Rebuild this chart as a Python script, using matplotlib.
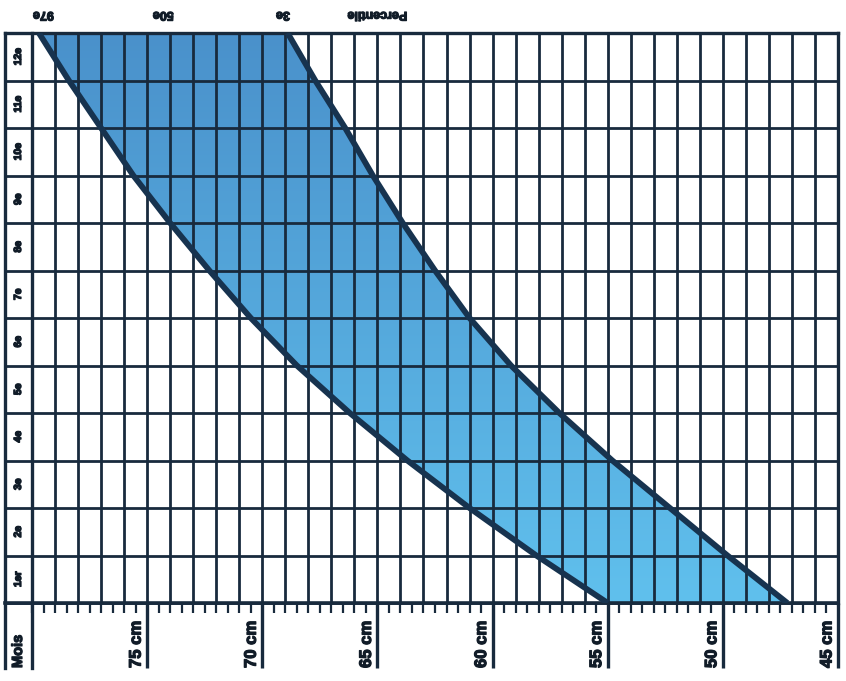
import numpy as np
import matplotlib
matplotlib.use("Agg")
import matplotlib.pyplot as plt
from matplotlib.patches import Polygon
from matplotlib.colors import LinearSegmentedColormap
import matplotlib.patheffects as pe

# ---- data ----
months = list(range(13))
p97 = [55.0, 58.1, 61.0, 63.7, 66.2, 68.5, 70.5, 72.3, 74.0, 75.6, 77.0, 78.4, 79.7]
p3 = [47.2, 49.8, 52.3, 54.8, 57.1, 59.2, 61.0, 62.5, 63.9, 65.2, 66.4, 67.7, 68.9]
month_labels = ["1er", "2e", "3e", "4e", "5e", "6e", "7e", "8e", "9e", "10e", "11e", "12e"]
cm_ticks = [75, 70, 65, 60, 55, 50, 45]
cm_labels = ["75 cm", "70 cm", "65 cm", "60 cm", "55 cm", "50 cm", "45 cm"]
top_labels = ["97e", "50e", "3e", "Percentile"]
top_label_x = [79.5, 74.3, 69.1, 65.0]
x_max, x_min = 80, 45

# ---- layout ----
W, H = 846, 681
L, R, T, B = 32, 838, 33, 603
fig = plt.figure(figsize=(W / 100, H / 100), dpi=100)
ax = fig.add_axes([L / W, 1 - B / H, (R - L) / W, (B - T) / H])

pxx = (R - L) / (x_max - x_min)   # px per cm
pxy = (B - T) / 12.0              # px per month
navy = "#182a3d"
txt = "#111c28"
font = ["Liberation Sans", "DejaVu Sans"]
heavy = [pe.withStroke(linewidth=0.9, foreground=txt)]

col_left = x_max + 27 / pxx       # Mois column outer edge
y_bot = -65 / pxy                 # bottom of label strip

# gradient fill clipped to the band
cmap = LinearSegmentedColormap.from_list("band", ["#60c0ed", "#4a91cb"])
grad = np.linspace(0, 1, 256).reshape(-1, 1)
im = ax.imshow(grad, extent=(x_min, x_max, 0, 12), origin="lower",
               cmap=cmap, aspect="auto", zorder=1, interpolation="bilinear")
verts = list(zip(p97, months)) + list(zip(p3[::-1], months[::-1]))
poly = Polygon(verts, closed=True, facecolor="none", edgecolor="none")
ax.add_patch(poly)
im.set_clip_path(poly)

# grid
for c in range(x_min, x_max + 1):
    ax.plot([c, c], [0, 12], color=navy, lw=2.0, zorder=2, solid_capstyle="butt")
for m in range(13):
    ax.plot([col_left, x_min], [m, m], color=navy, lw=2.0, zorder=2,
            clip_on=False, solid_capstyle="projecting")

# frame / column lines extending below
ax.plot([col_left, col_left], [12, y_bot], color=navy, lw=2.4, clip_on=False, zorder=3)
ax.plot([x_max, x_max], [12, y_bot], color=navy, lw=2.4, clip_on=False, zorder=3)
ax.plot([x_min, x_min], [12, 0], color=navy, lw=2.4, clip_on=False, zorder=3)
ax.plot([col_left, x_min], [12, 12], color=navy, lw=2.4, clip_on=False, zorder=3)
ax.plot([col_left, x_min], [0, 0], color=navy, lw=2.6, clip_on=False, zorder=3)

# curves
ax.plot(p97, months, color="#17334f", lw=4.2, zorder=4, solid_joinstyle="round",
        solid_capstyle="butt")
ax.plot(p3, months, color="#17334f", lw=4.2, zorder=4, solid_joinstyle="round",
        solid_capstyle="butt")

ax.set_xlim(x_max, x_min)
ax.set_ylim(0, 12)
for s in ax.spines.values():
    s.set_visible(False)

# ticks
ax.set_xticks(cm_ticks, labels=[])
ax.set_xticks(np.arange(x_min, x_max + 0.01, 0.5), minor=True)
ax.tick_params(axis="x", which="major", length=65 / 1.389, width=2.4, color=navy,
               direction="out")
ax.tick_params(axis="x", which="minor", length=7, width=1.6, color=navy,
               direction="out")
ax.set_yticks([])

# labels
for c, lab in zip(cm_ticks, cm_labels):
    ax.text(c + 11 / pxx, y_bot, lab, rotation=90, ha="center", va="bottom",
            fontsize=12, fontweight="bold", color=txt, family=font, clip_on=False,
            path_effects=heavy)
ax.text(x_max + 14 / pxx, y_bot, "Mois", rotation=90, ha="center", va="bottom",
        fontsize=10.5, fontweight="bold", color=txt, family=font, clip_on=False,
        path_effects=heavy)
for i, lab in enumerate(month_labels):
    ax.text(x_max + 14 / pxx, i + 0.5, lab, rotation=90, ha="center", va="center",
            fontsize=7.5, fontweight="bold", color=txt, family=font, clip_on=False,
            path_effects=heavy)
for xx, lab in zip(top_label_x, top_labels):
    ax.text(xx, 12 + 18 / pxy, lab, rotation=180, ha="center", va="center",
            fontsize=9, fontweight="bold", color=txt, family=font, clip_on=False,
            path_effects=heavy)

fig.savefig("out.png", dpi=100)
